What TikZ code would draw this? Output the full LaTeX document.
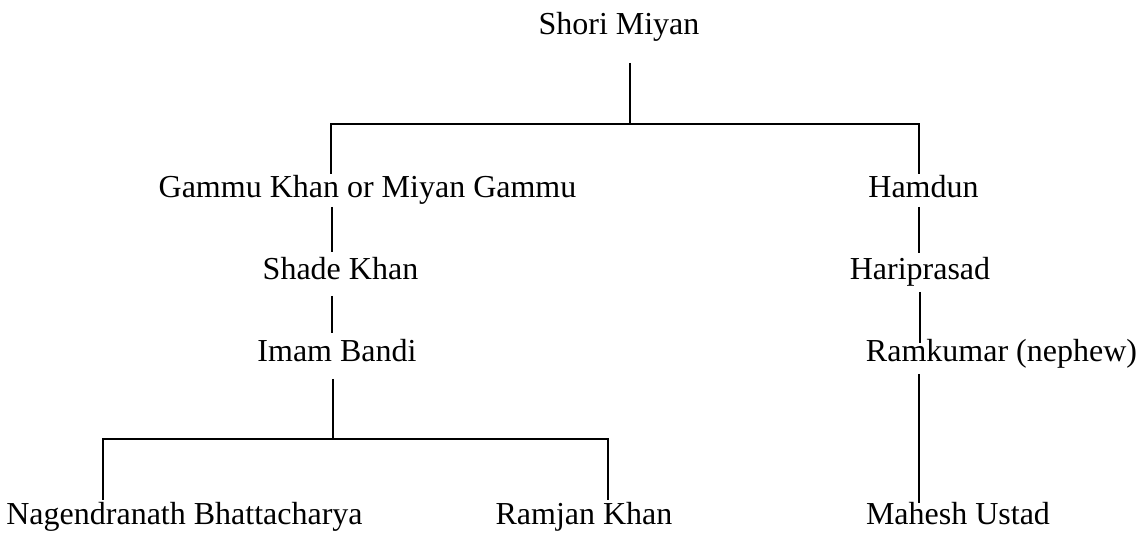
\documentclass[tikz,border=0pt]{standalone}
\usepackage{fontspec}
\setmainfont{Liberation Serif}
\begin{document}
\begin{tikzpicture}[x=0.75pt,y=-0.75pt,
  person/.style={inner sep=0pt,anchor=base,font=\fontsize{24}{24}\selectfont},
  link/.style={line width=1.4pt,line cap=butt,line join=miter}]
\useasboundingbox (0,0) rectangle (1147,534);
% people
\node[person] (shori) at (619,35) {Shori Miyan};
\node[person] (gammu) at (367.5,198) {Gammu Khan or Miyan Gammu};
\node[person] (shade) at (340.5,280) {Shade Khan};
\node[person] (imam) at (337,362) {Imam Bandi};
\node[person] (hamdun) at (923.5,198) {Hamdun};
\node[person] (hari) at (920,280) {Hariprasad};
\node[person] (ram) at (1001.5,362) {Ramkumar (nephew)};
\node[person] (nagen) at (184.5,525) {Nagendranath Bhattacharya};
\node[person] (ramjan) at (584,525) {Ramjan Khan};
\node[person] (mahesh) at (958,525) {Mahesh Ustad};
% junction points
\coordinate (s0) at (630,63);
\coordinate (s1) at (630,124);
\coordinate (g0) at (331,174);
\coordinate (h0) at (919,174);
\coordinate (g1) at (332,207);
\coordinate (sh0) at (332,252);
\coordinate (sh1) at (332,296);
\coordinate (im0) at (332,333);
\coordinate (hd1) at (919,207);
\coordinate (hp0) at (919,253);
\coordinate (hp1) at (920,292);
\coordinate (rk0) at (920,343);
\coordinate (rk1) at (919,374);
\coordinate (mu0) at (919,503);
\coordinate (im1) at (333,379);
\coordinate (im2) at (333,439);
\coordinate (ng0) at (103,500);
\coordinate (rj0) at (608,500);
% connectors
\draw[link] (s0) -- (s1);
\draw[link] (g0) |- (s1) -| (h0);
\draw[link] (g1) -- (sh0);
\draw[link] (sh1) -- (im0);
\draw[link] (hd1) -- (hp0);
\draw[link] (hp1) -- (rk0);
\draw[link] (rk1) -- (mu0);
\draw[link] (im1) -- (im2);
\draw[link] (ng0) |- (im2) -| (rj0);
\end{tikzpicture}
\end{document}
